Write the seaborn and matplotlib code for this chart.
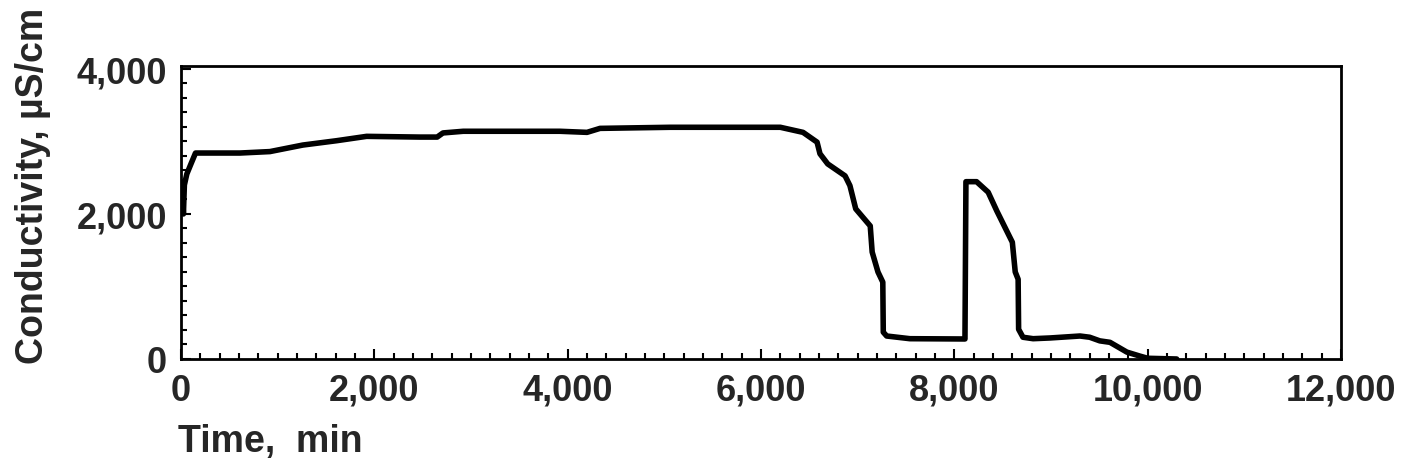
import matplotlib
matplotlib.use("Agg")
import matplotlib.pyplot as plt
import seaborn as sns
import pandas as pd
from matplotlib.ticker import MultipleLocator, FuncFormatter

# Data
time_min = [0, 15, 25, 35, 60, 100, 150, 610, 920, 1260, 1610, 1920, 2470, 2650,
            2710, 2920, 3920, 4200, 4335, 5060, 6200, 6435, 6580, 6610, 6690, 6870,
            6920, 6980, 7130, 7150, 7210, 7260, 7265, 7300, 7540, 8110, 8120, 8230,
            8350, 8440, 8600, 8630, 8660, 8665, 8710, 8815, 8990, 9300, 9400, 9505,
            9610, 9785, 9920, 10000, 10300]
conductivity = [2450, 2350, 2000, 2400, 2550, 2680, 2840, 2840, 2860, 2950, 3010, 3070,
                3060, 3060, 3117, 3140, 3140, 3125, 3180, 3195, 3195, 3125, 2990, 2830,
                2690, 2525, 2390, 2070, 1835, 1475, 1200, 1060, 370, 317, 280, 276, 2445,
                2445, 2300, 2040, 1610, 1200, 1100, 410, 300, 280, 290, 317, 300, 250,
                230, 95, 40, 10, 0]

x_ticks = [0, 2000, 4000, 6000, 8000, 10000, 12000]
y_ticks = [0, 2000, 4000]
x_label = "Time,  min"
y_label = "Conductivity, \u00b5S/cm"

df = pd.DataFrame({"t": time_min, "c": conductivity})

sns.set_theme(style="ticks")
plt.rcParams["font.family"] = ["Liberation Sans", "DejaVu Sans"]
plt.rcParams["font.weight"] = "bold"

fig = plt.figure(figsize=(14.02, 4.77), dpi=100)
ax = fig.add_axes([181 / 1402, 117 / 477, (1341 - 181) / 1402, (410 - 117) / 477])

sns.lineplot(data=df, x="t", y="c", ax=ax, estimator=None, sort=False,
             color="black", linewidth=4.0)

ax.set_xlim(0, 12000)
ax.set_ylim(0, 4040)
ax.set_xticks(x_ticks)
ax.set_yticks(y_ticks)
ax.xaxis.set_minor_locator(MultipleLocator(200))
ax.yaxis.set_minor_locator(MultipleLocator(200))
fmt = FuncFormatter(lambda v, p: f"{int(v):,}")
ax.xaxis.set_major_formatter(fmt)
ax.yaxis.set_major_formatter(fmt)

ax.tick_params(which="both", direction="in", top=False, right=False, width=1.5, color="black")
ax.tick_params(which="major", length=7, labelsize=26, pad=10)
ax.tick_params(which="minor", length=4)
for lab in ax.get_xticklabels() + ax.get_yticklabels():
    lab.set_fontweight("bold")

for s in ax.spines.values():
    s.set_visible(True)
    s.set_linewidth(2)
    s.set_color("black")

ax.set_xlabel("")
ax.set_ylabel("")
fig.text(178 / 1402, 1 - 442 / 477, x_label, fontsize=27, fontweight="bold",
         ha="left", va="center")
fig.text(33 / 1402, 1 - 186 / 477, y_label, fontsize=27, fontweight="bold",
         rotation=90, ha="center", va="center")

fig.savefig("out.png", dpi=100, facecolor="white")
